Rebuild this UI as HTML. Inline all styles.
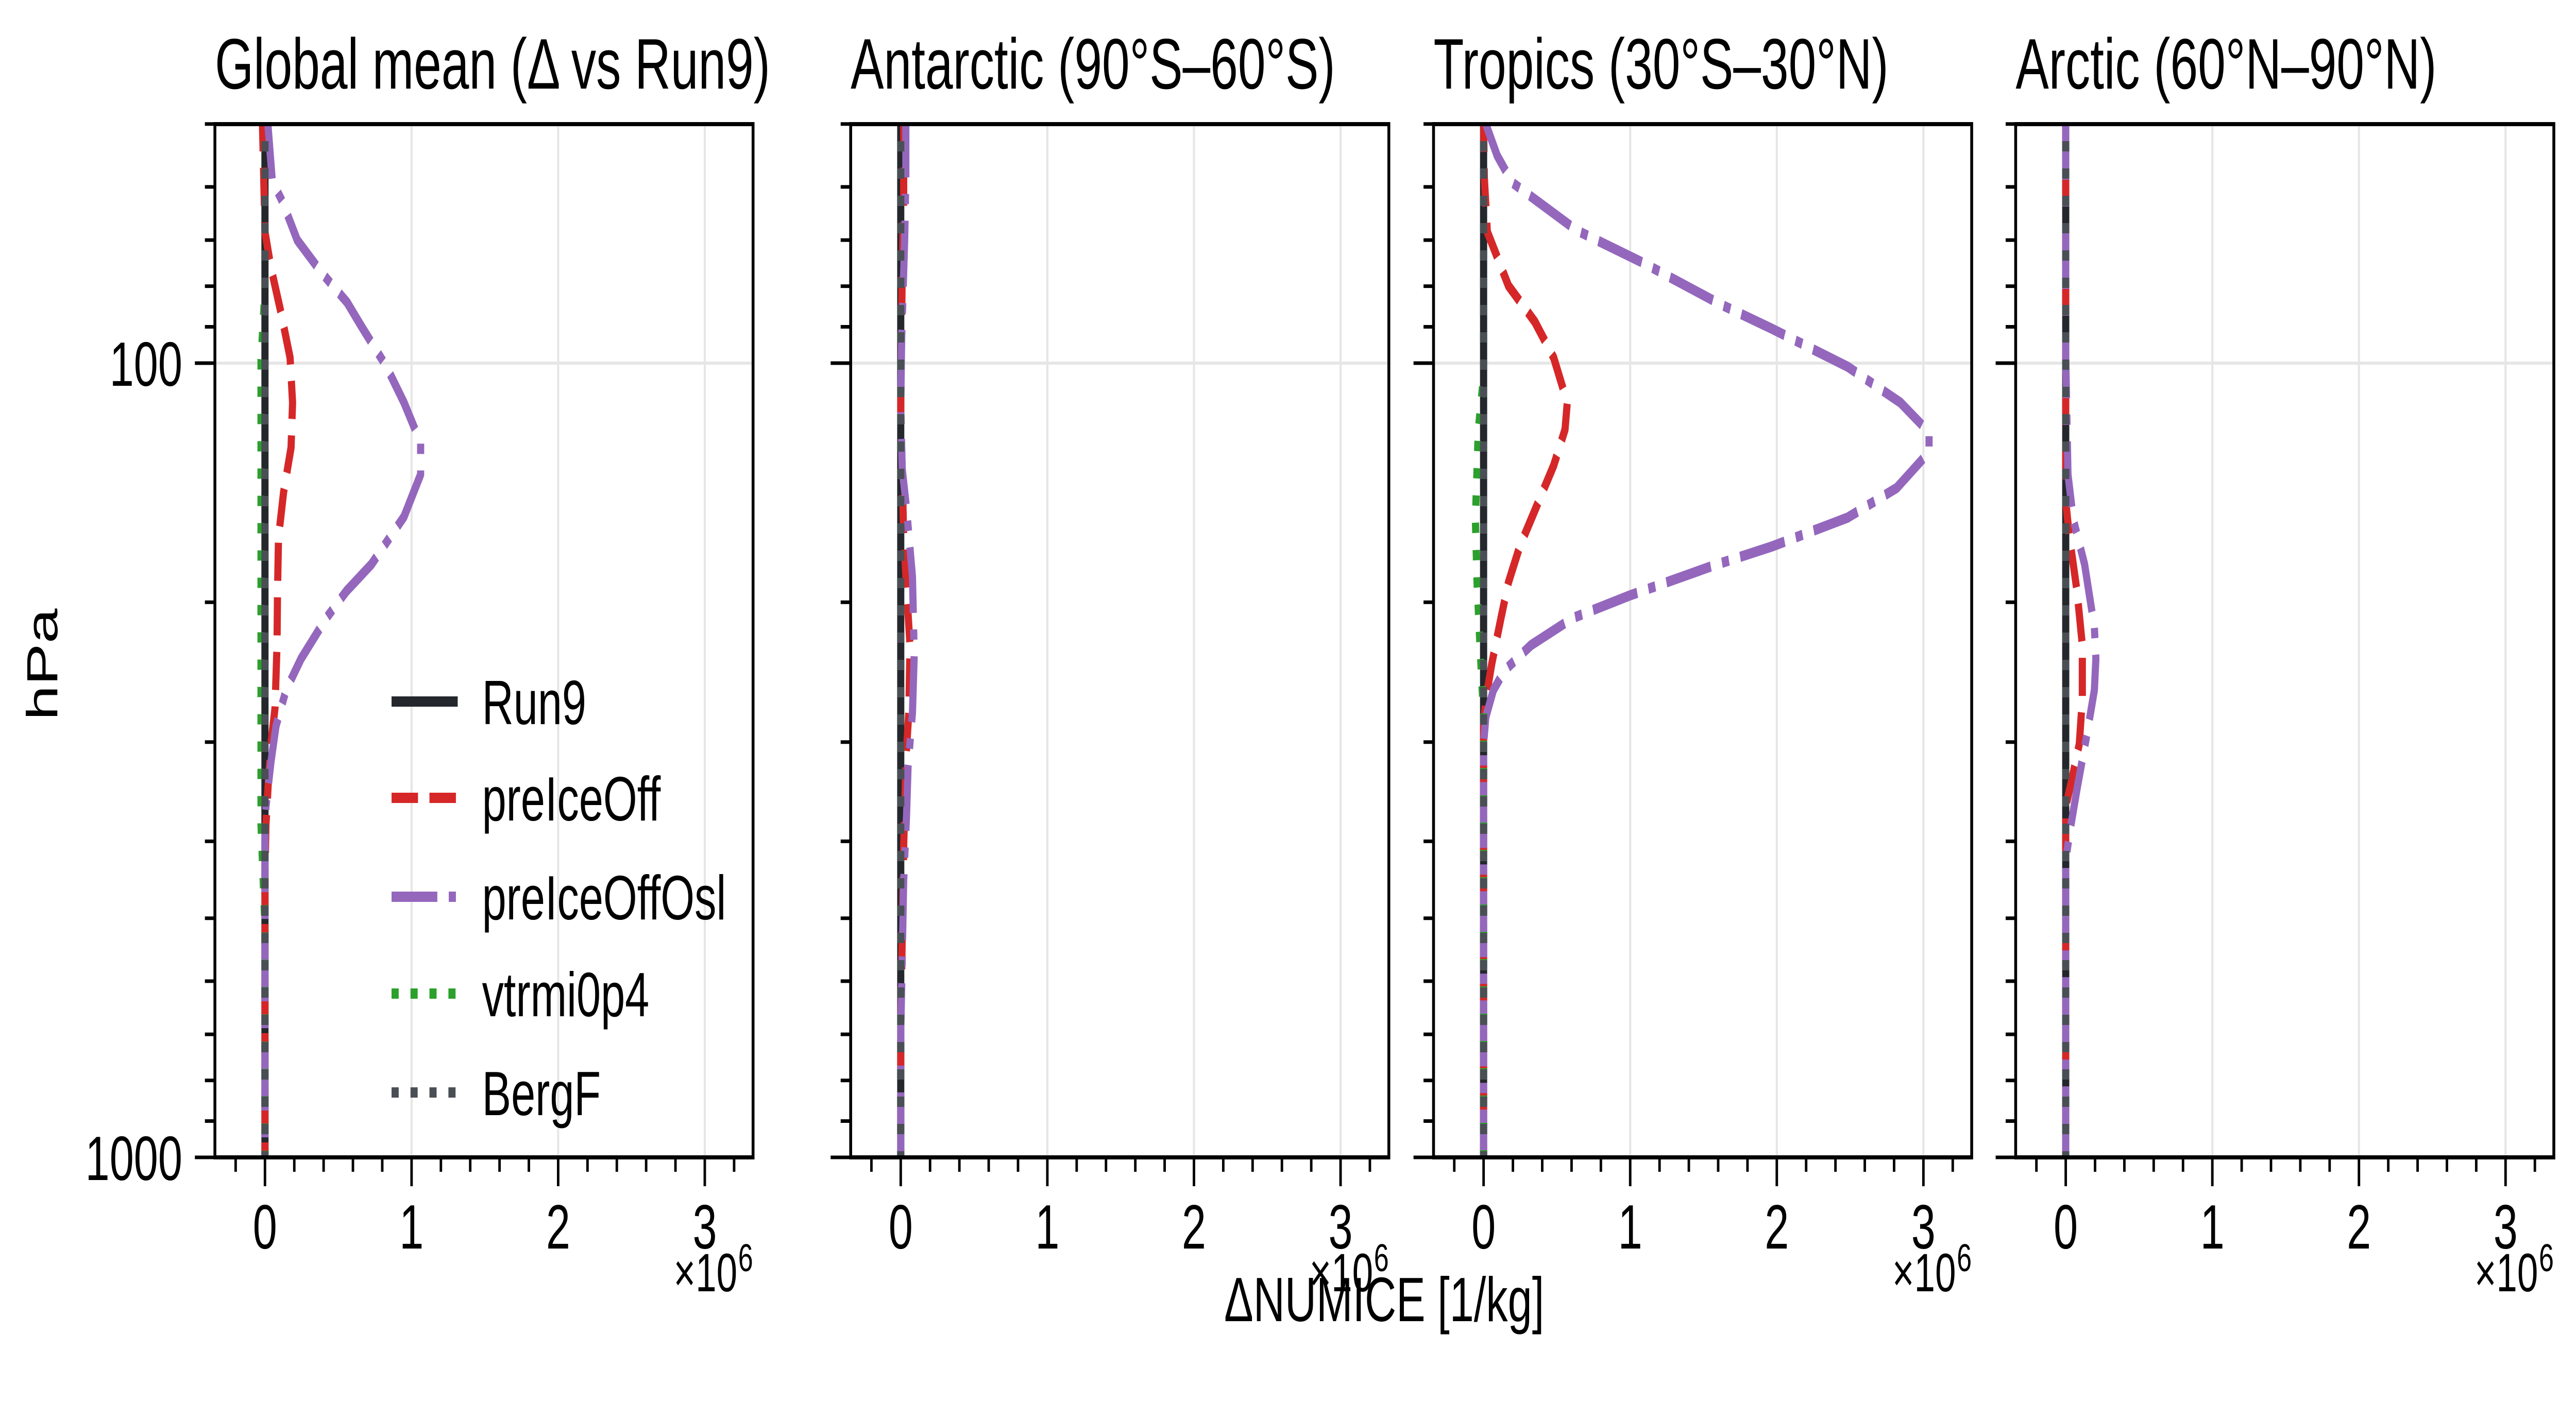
<!DOCTYPE html>
<html><head><meta charset="utf-8"><style>
html,body{margin:0;padding:0;background:#fff;width:100%;height:100%;overflow:hidden;}
svg{display:block;width:100vw;height:100vh;}
text{font-family:"Liberation Sans",Arial,sans-serif;fill:#000;}
</style></head><body>
<svg id="s" xmlns="http://www.w3.org/2000/svg" viewBox="0 0 7204 2720" preserveAspectRatio="none" overflow="hidden">
<rect width="7204" height="2720" fill="#fff"/>
<text x="601" y="172" font-size="139">Global mean (Δ vs Run9)</text>
<text x="2379" y="172" font-size="139">Antarctic (90°S–60°S)</text>
<text x="4009" y="172" font-size="139">Tropics (30°S–30°N)</text>
<text x="5637" y="172" font-size="139">Arctic (60°N–90°N)</text>
<text x="510" y="749" font-size="122" text-anchor="end">100</text>
<text x="510" y="2291" font-size="122" text-anchor="end">1000</text>
<text transform="translate(160,1290) rotate(-90)" font-size="122" text-anchor="middle">hPa</text>
<text x="3871" y="2565" font-size="122" text-anchor="middle">ΔNUMICE [1/kg]</text>
<g id="legend">
<line x1="1095" y1="1362" x2="1280" y2="1362" stroke="#24272b" stroke-width="20"/>
<line x1="1095" y1="1549" x2="1280" y2="1549" stroke="#d62728" stroke-width="20" stroke-dasharray="74 32"/>
<line x1="1095" y1="1741" x2="1280" y2="1741" stroke="#9467bd" stroke-width="20" stroke-dasharray="128 32 20 32"/>
<line x1="1095" y1="1929" x2="1280" y2="1929" stroke="#2ca02c" stroke-width="20" stroke-dasharray="20 33"/>
<line x1="1095" y1="2121" x2="1280" y2="2121" stroke="#4a4f55" stroke-width="20" stroke-dasharray="20 33"/>
<text x="1348" y="1406" font-size="122">Run9</text>
<text x="1348" y="1593" font-size="122">preIceOff</text>
<text x="1348" y="1785" font-size="122">preIceOffOsl</text>
<text x="1348" y="1973" font-size="122">vtrmi0p4</text>
<text x="1348" y="2165" font-size="122">BergF</text>
</g>
</svg>
<script>
(function(){
var NS="http://www.w3.org/2000/svg", s=document.getElementById('s');
var L=[601,2379,4009,5637], W=1505, T=241, B=2247, S=410;
function el(n,a,parent){var e=document.createElementNS(NS,n);for(var k in a)e.setAttribute(k,a[k]);(parent||s).insertBefore(e,document.getElementById('legend'));return e;}
function yp(p){return 705+1542*Math.log10(p/100);}
var c1=function(a){return [(a[0]-528)/292,241+(a[1]-140)*1.744];};
var c3=function(a){return [(a[0]-117)/194.5,241+(a[1]-140)*1.744];};
var c4=function(a){return [(a[0]-890)/194.5,241+(a[1]-140)*1.744];};
function ycv(z){return 241+(z-140)*1.744;}
function fin(arr){var r=[[0,T-20]].concat(arr);r.push([0,B+20]);return r;}
var data=[
 {red:fin([[523,140],[528,260],[540,300],[560,350],[578,400],[583,450],[580,500],[565,550],[555,600],[553,660],[552,720],[548,790],[540,830],[535,870],[530,920]].map(c1).concat([[0,1700]])),
  pur:fin([[0.02,241],[0.05,351],[0.12,392],[0.22,466],[0.385,529],[0.56,587]].concat([[720,365],[770,410],[805,450],[838,495],[838,530],[805,577],[740,630],[690,660],[650,690],[600,735],[570,770],[550,810],[540,850],[530,900],[528,920]].map(c1)).concat([[0,1700]])),
  grn:fin([[0,560],[-0.027,700],[-0.027,1600],[0,1800]])},
 {red:fin([[0.02,241],[0.02,380],[0.01,528],[0,791],[0.02,1041],[0.043,1159],[0.063,1251],[0.055,1383],[0.035,1475],[0.02,1645],[0.005,1908],[0,2000]]),
  pur:fin([[0.035,241],[0.035,345],[0.027,463],[0.006,660],[0,791],[0.01,910],[0.04,988],[0.08,1120],[0.092,1271],[0.08,1383],[0.05,1488],[0.04,1580],[0.02,1711],[0.007,1908],[0,2000]]),
  grn:fin([])},
 {red:fin([[117,140],[118,200],[122,260],[150,320],[185,360],[210,400],[228,450],[225,480],[210,520],[190,560],[165,610],[150,650],[140,690],[128,740],[120,780],[117,810]].map(c3)),
  pur:fin([[120,140],[135,175],[155,205],[240,258],[330,295],[430,340],[500,368],[600,410],[670,450],[708,483],[708,505],[665,545],[600,578],[500,610],[420,632],[310,665],[235,690],[180,720],[145,748],[130,770],[120,800],[117,830]].map(c3)),
  grn:fin([[0,ycv(420)],[-0.036,ycv(480)],[-0.056,ycv(580)],[-0.045,ycv(650)],[-0.025,ycv(720)],[0,ycv(800)]])},
 {red:fin([[890,140],[890,560],[895,600],[905,660],[912,720],[912,780],[908,830],[898,870],[890,900]].map(c4)),
  pur:fin([[890,140],[890,400],[893,530],[900,580],[915,630],[928,700],[930,735],[928,770],[918,820],[905,880],[895,930],[890,960]].map(c4)),
  grn:fin([])}
];
for(var i=0;i<4;i++){
 var l=L[i], x0=l+140, r=l+W;
 var cp=el('clipPath',{id:'c'+i}); var cr=document.createElementNS(NS,'rect');
 cr.setAttribute('x',l);cr.setAttribute('y',T);cr.setAttribute('width',W);cr.setAttribute('height',B-T);cp.appendChild(cr);
 for(var v=0;v<=3;v++) el('line',{x1:x0+v*S,y1:T,x2:x0+v*S,y2:B,stroke:'#e6e6e6','stroke-width':6});
 el('line',{x1:l,y1:yp(100),x2:r,y2:yp(100),stroke:'#e6e6e6','stroke-width':6});
 var g=el('g',{'clip-path':'url(#c'+i+')',fill:'none','stroke-width':20,'stroke-linejoin':'round'});
 function pl(pts,col,dash){var st=pts.map(function(p){return (x0+p[0]*S).toFixed(1)+','+p[1].toFixed(1);}).join(' ');
  var e=document.createElementNS(NS,'polyline');e.setAttribute('points',st);e.setAttribute('stroke',col);if(dash)e.setAttribute('stroke-dasharray',dash);g.appendChild(e);}
 var d=data[i];
 pl([[0,T-20],[0,B+20]],'#24272b');
 pl(d.red,'#d62728','74 32');
 pl(d.pur,'#9467bd','128 32 20 32');
 pl(d.grn,'#2ca02c','20 33');
 pl([[0,T-20],[0,B+20]],'#4a4f55','20 33');
 el('rect',{x:l,y:T,width:W,height:B-T,fill:'none',stroke:'#000','stroke-width':8});
 for(var k=-1;k<=16;k++){var v2=k*0.2;var X=x0+v2*S;if(X<l||X>r)continue;var maj=(k%5===0);
  el('line',{x1:X,y1:B,x2:X,y2:B+(maj?56:28),stroke:'#000','stroke-width':7});}
 for(var v3=0;v3<=3;v3++){var t=el('text',{x:x0+v3*S,y:2424,'font-size':122,'text-anchor':'middle'});t.textContent=String(v3);}
 var t1=el('text',{x:r-44,y:2507,'font-size':105,'text-anchor':'end'});t1.textContent='×10';
 var t2=el('text',{x:r,y:2468,'font-size':75,'text-anchor':'end'});t2.textContent='6';
 var ps=[50,60,70,80,90,100,200,300,400,500,600,700,800,900,1000];
 ps.forEach(function(p){var Y=yp(p);var maj=(p===100||p===1000);
  el('line',{x1:l-(maj?56:28),y1:Y,x2:l,y2:Y,stroke:'#000','stroke-width':7});});
}
})();
</script>
</body></html>
